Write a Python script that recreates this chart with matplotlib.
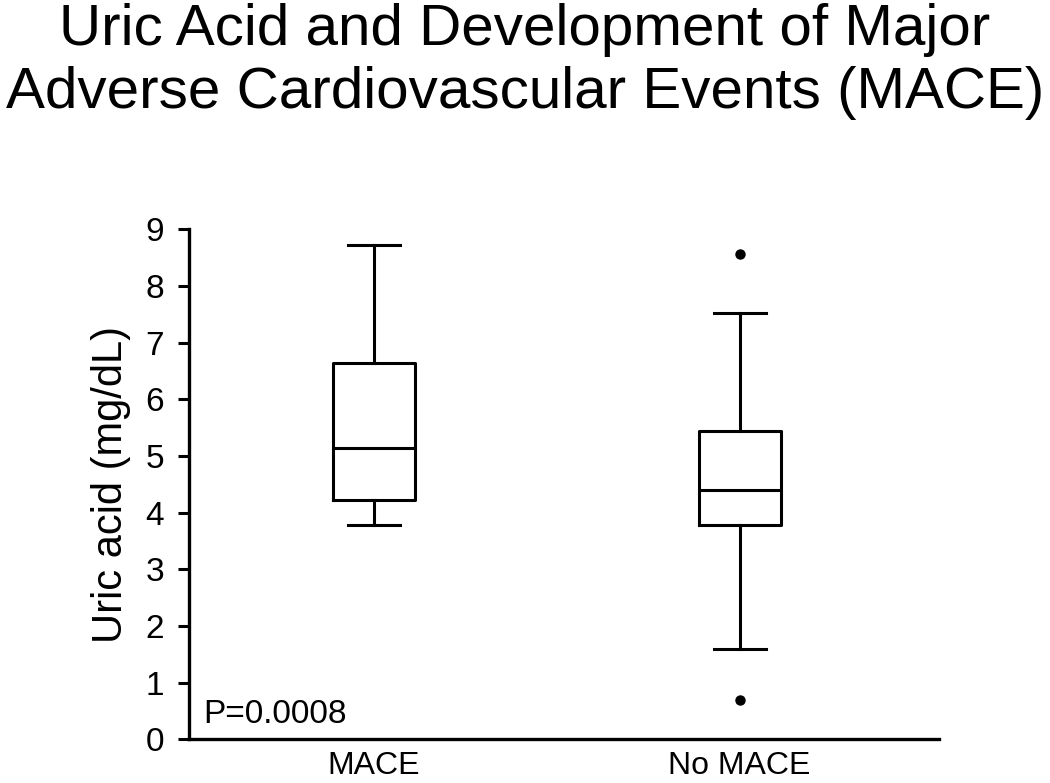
import matplotlib
matplotlib.use("Agg")
import matplotlib.pyplot as plt

# ================= DATA =================
groups = ["MACE", "No MACE"]
whisker_low = [3.78, 1.60]
q1 = [4.22, 3.78]
median = [5.15, 4.41]
q3 = [6.65, 5.44]
whisker_high = [8.72, 7.53]
outliers = [[], [8.56, 0.69]]
p_text = "P=0.0008"

plt.rcParams['font.family'] = ['Liberation Sans', 'DejaVu Sans']

# ================= PLOT =================
fig = plt.figure(figsize=(10.5, 7.83), dpi=100)
ax = fig.add_axes([0.18, 0.0556, 0.7143, 0.6515])

stats = []
for i, g in enumerate(groups):
    stats.append(dict(label=g, med=median[i], q1=q1[i], q3=q3[i],
                      whislo=whisker_low[i], whishi=whisker_high[i],
                      fliers=outliers[i]))

line = dict(color='black', linewidth=2.2)
ax.bxp(stats, positions=[1, 2], widths=0.224, capwidths=0.142,
       boxprops=line, whiskerprops=line, capprops=line, medianprops=line,
       flierprops=dict(marker='o', markerfacecolor='black',
                       markeredgecolor='black', markersize=6.5),
       showfliers=True)

ax.set_xlim(0.495, 2.545)
ax.set_ylim(0, 9)
ax.set_yticks(range(0, 10))

for s in ['top', 'right']:
    ax.spines[s].set_visible(False)
for s in ['left', 'bottom']:
    ax.spines[s].set_linewidth(2.4)

ax.tick_params(axis='y', length=8, width=2.2, labelsize=24, pad=10)
ax.tick_params(axis='x', length=0, labelsize=23, pad=8)

ax.set_ylabel("Uric acid (mg/dL)", fontsize=30, labelpad=10)

ax.text(0.019, 0.032, p_text, transform=ax.transAxes, fontsize=24,
        ha='left', va='baseline')

fig.text(0.5, 1 - 45 / 783, "Uric Acid and Development of Major",
         fontsize=42, ha='center', va='baseline')
fig.text(0.5, 1 - 108 / 783, "Adverse Cardiovascular Events (MACE)",
         fontsize=42, ha='center', va='baseline')

fig.savefig("out.png", dpi=100)
